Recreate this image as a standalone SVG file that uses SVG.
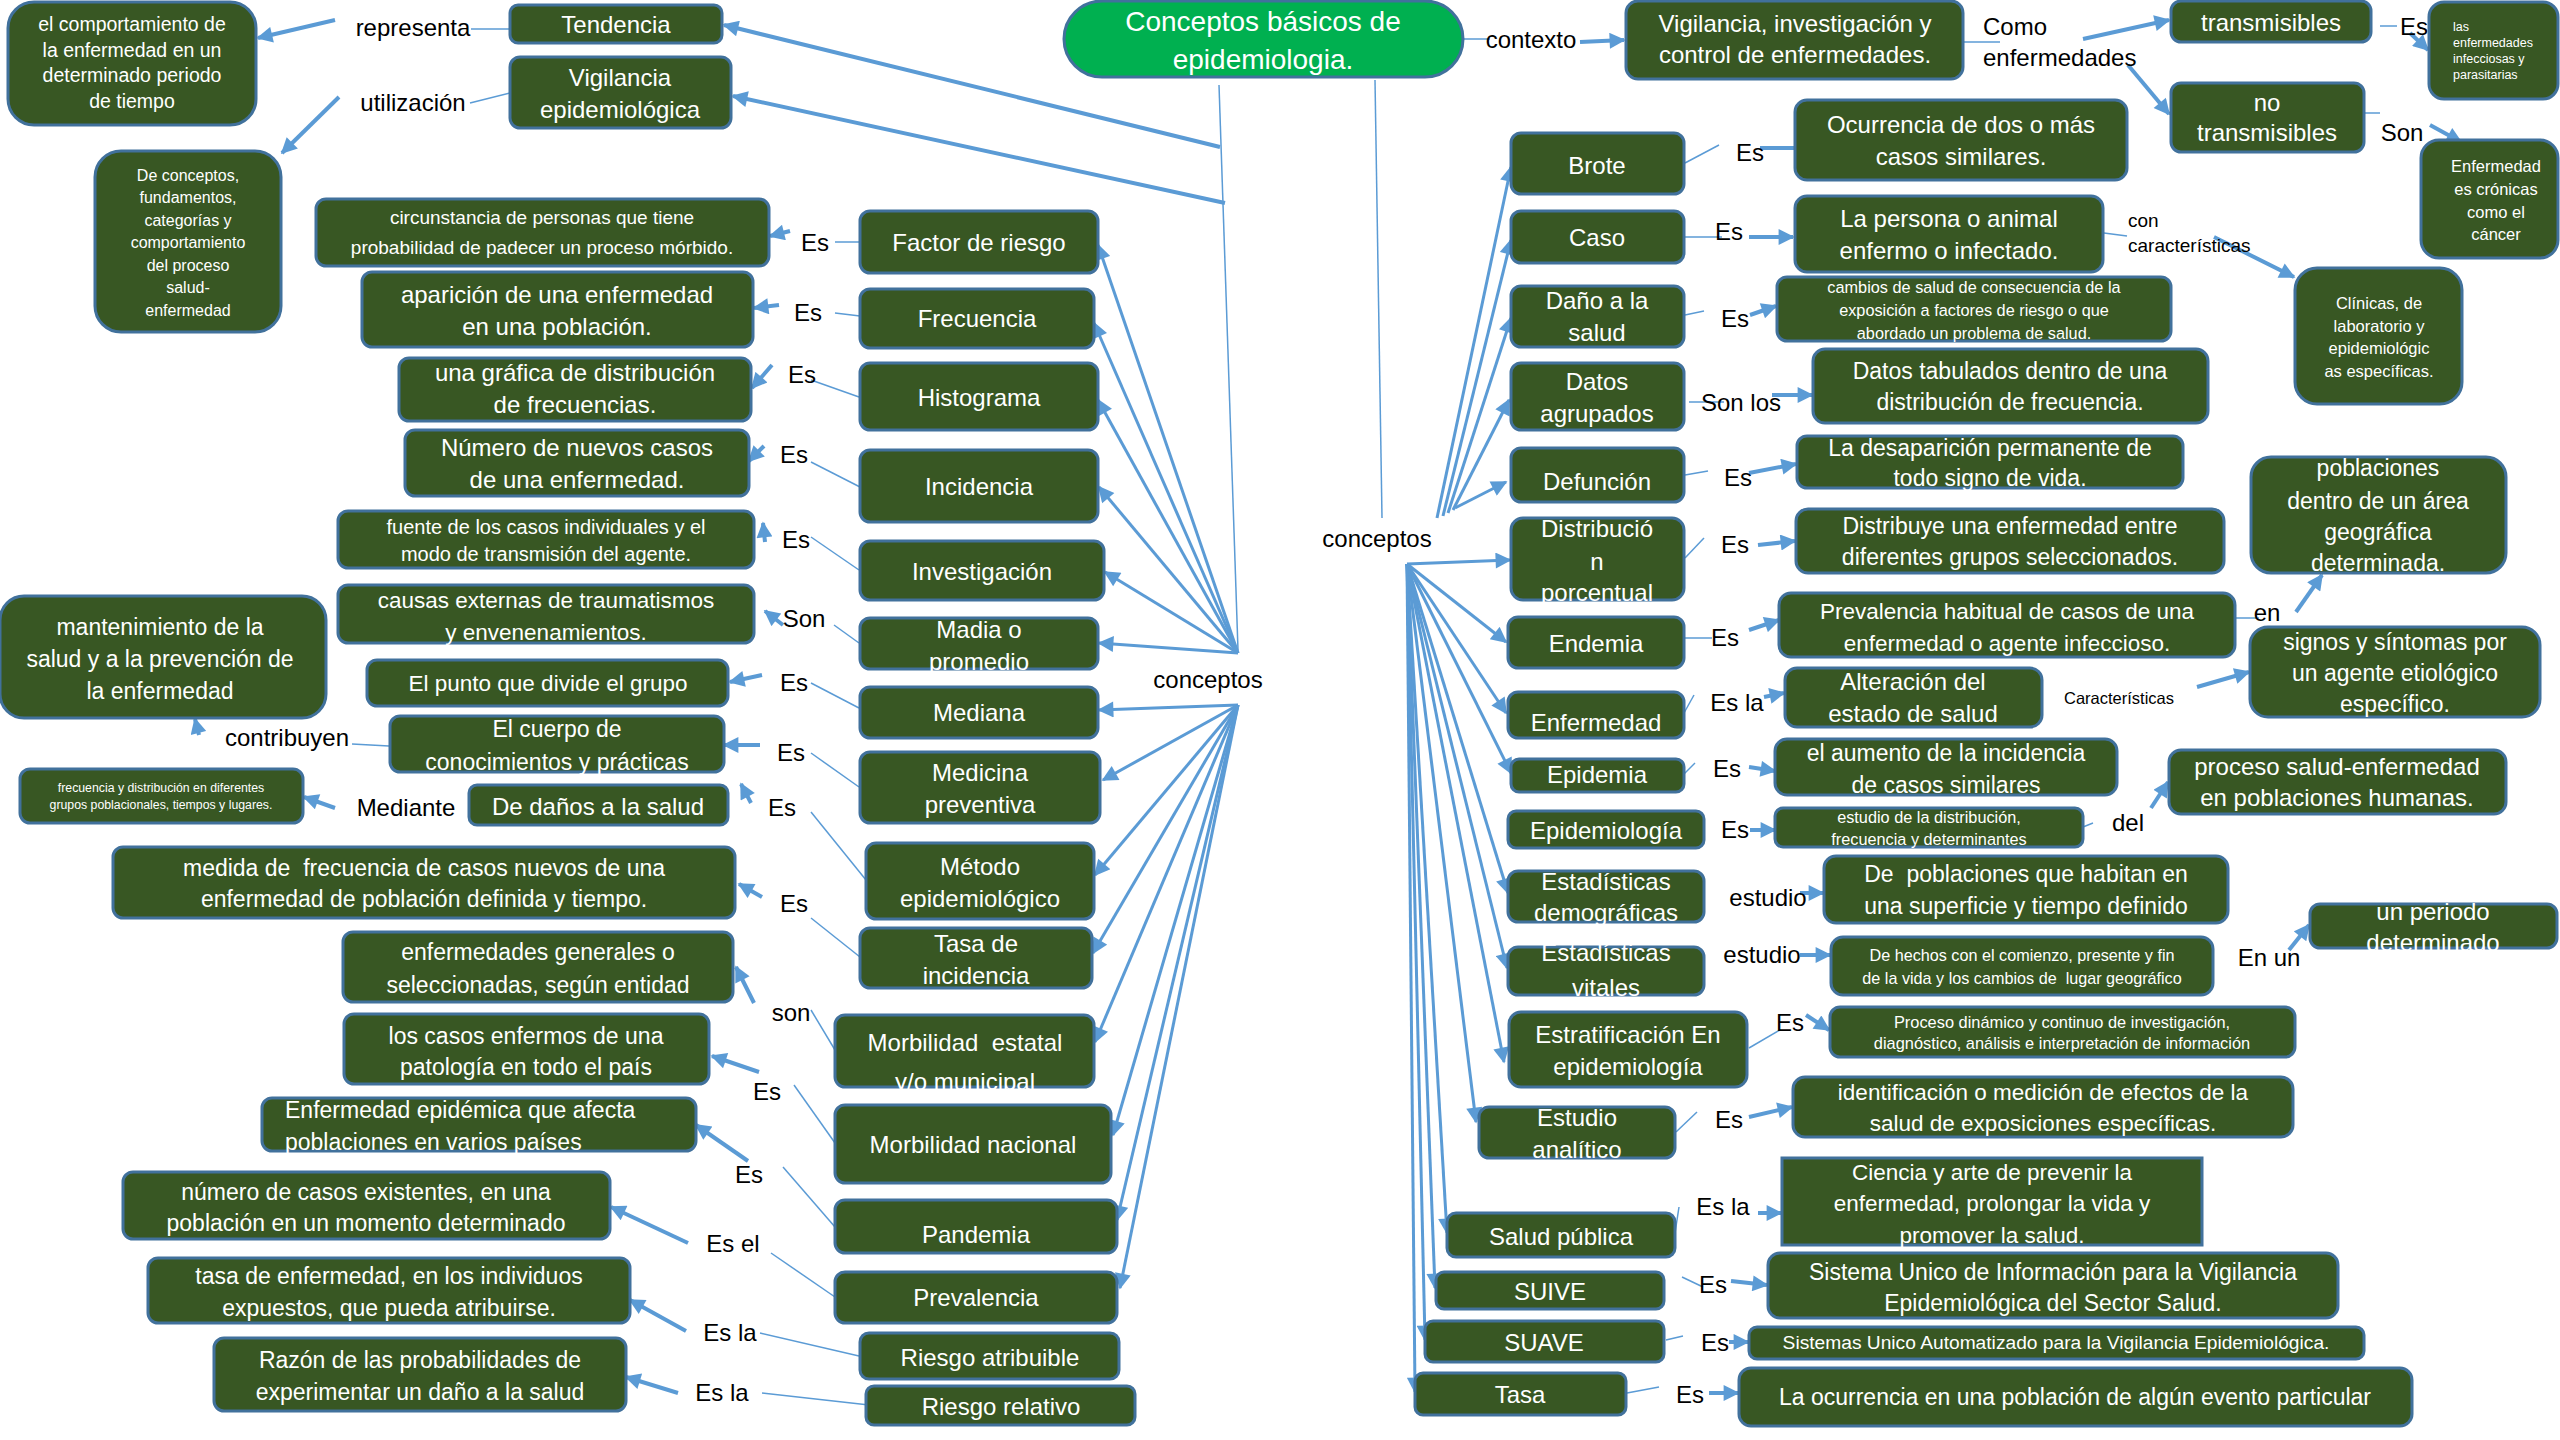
<svg xmlns="http://www.w3.org/2000/svg" width="2560" height="1440" viewBox="0 0 2560 1440">
<defs>
<marker id="ah" viewBox="0 0 10 10" refX="9" refY="5" markerWidth="18" markerHeight="16" markerUnits="userSpaceOnUse" orient="auto"><path d="M0,0 L10,5 L0,10 z" fill="#5B9BD5"/></marker>
<style>
.b{fill:#385723;stroke:#41719C;stroke-width:3}
.g{fill:#00B050;stroke:#41719C;stroke-width:3}
text{font-family:"Liberation Sans",Arial,sans-serif;font-size:24px}
.t{fill:#fff;text-anchor:middle}
.tl{fill:#fff;text-anchor:start}
.l{fill:#000;text-anchor:middle}
.ll{fill:#000;text-anchor:start}
.c line{stroke:#5B9BD5;fill:none}
.a{stroke-width:4;marker-end:url(#ah)}
.f{stroke-width:3;marker-end:url(#ah)}
.s{stroke-width:1.5}
</style>
</defs>
<rect width="2560" height="1440" fill="#fff"/>

<g id="connectors" class="c">
<line class="a" x1="335" y1="20" x2="258" y2="38"/>
<line class="a" x1="339" y1="97" x2="282" y2="153"/>
<line class="s" x1="471" y1="29" x2="510" y2="29"/>
<line class="s" x1="470" y1="103" x2="510" y2="93"/>
<line class="a" x1="1220" y1="147" x2="724" y2="25"/>
<line class="a" x1="1225" y1="203" x2="733" y2="96"/>
<line class="s" x1="1219" y1="85" x2="1238" y2="650"/>
<line class="s" x1="1375" y1="80" x2="1382" y2="518"/>
<line class="s" x1="1463" y1="39" x2="1490" y2="39"/>
<line class="a" x1="1580" y1="42" x2="1624" y2="40"/>
<line class="s" x1="1963" y1="42" x2="2000" y2="42"/>
<line class="a" x1="2083" y1="39" x2="2169" y2="20"/>
<line class="a" x1="2128" y1="65" x2="2169" y2="114"/>
<line class="s" x1="2380" y1="26" x2="2397" y2="26"/>
<line class="a" x1="2410" y1="33" x2="2428" y2="50"/>
<line class="s" x1="2365" y1="113" x2="2380" y2="113"/>
<line class="a" x1="2430" y1="125" x2="2461" y2="142"/>
<line class="s" x1="2104" y1="233" x2="2127" y2="236"/>
<line class="a" x1="2214" y1="237" x2="2294" y2="277"/>
<line class="f" x1="1238" y1="653" x2="1098" y2="245"/>
<line class="f" x1="1238" y1="653" x2="1094" y2="323"/>
<line class="f" x1="1238" y1="653" x2="1098" y2="400"/>
<line class="f" x1="1238" y1="653" x2="1099" y2="487"/>
<line class="f" x1="1238" y1="653" x2="1105" y2="572"/>
<line class="f" x1="1238" y1="653" x2="1099" y2="643"/>
<line class="f" x1="1238" y1="705" x2="1099" y2="710"/>
<line class="f" x1="1238" y1="705" x2="1103" y2="780"/>
<line class="f" x1="1238" y1="705" x2="1095" y2="875"/>
<line class="f" x1="1238" y1="705" x2="1093" y2="953"/>
<line class="f" x1="1238" y1="705" x2="1095" y2="1042"/>
<line class="f" x1="1238" y1="705" x2="1113" y2="1135"/>
<line class="f" x1="1238" y1="705" x2="1117" y2="1220"/>
<line class="f" x1="1238" y1="705" x2="1120" y2="1288"/>
<line class="f" x1="1437" y1="518" x2="1511" y2="167"/>
<line class="f" x1="1443" y1="516" x2="1511" y2="240"/>
<line class="f" x1="1448" y1="513" x2="1511" y2="318"/>
<line class="f" x1="1453" y1="510" x2="1509" y2="400"/>
<line class="f" x1="1455" y1="508" x2="1506" y2="482"/>
<line class="f" x1="1407" y1="564" x2="1510" y2="560"/>
<line class="f" x1="1407" y1="564" x2="1506" y2="642"/>
<line class="f" x1="1407" y1="564" x2="1506" y2="713"/>
<line class="f" x1="1407" y1="564" x2="1511" y2="773"/>
<line class="f" x1="1407" y1="564" x2="1508" y2="893"/>
<line class="f" x1="1407" y1="564" x2="1507" y2="968"/>
<line class="f" x1="1407" y1="564" x2="1504" y2="1062"/>
<line class="f" x1="1407" y1="564" x2="1476" y2="1122"/>
<line class="f" x1="1407" y1="564" x2="1447" y2="1233"/>
<line class="f" x1="1407" y1="564" x2="1435" y2="1288"/>
<line class="f" x1="1407" y1="564" x2="1425" y2="1340"/>
<line class="f" x1="1407" y1="564" x2="1415" y2="1392"/>
<line class="s" x1="835" y1="242" x2="860" y2="242"/>
<line class="s" x1="835" y1="313" x2="860" y2="316"/>
<line class="s" x1="811" y1="380" x2="859" y2="397"/>
<line class="s" x1="811" y1="462" x2="860" y2="487"/>
<line class="s" x1="811" y1="537" x2="859" y2="570"/>
<line class="s" x1="834" y1="625" x2="859" y2="643"/>
<line class="s" x1="811" y1="683" x2="859" y2="708"/>
<line class="s" x1="811" y1="753" x2="859" y2="787"/>
<line class="s" x1="811" y1="812" x2="866" y2="880"/>
<line class="s" x1="811" y1="918" x2="860" y2="957"/>
<line class="s" x1="811" y1="1010" x2="835" y2="1050"/>
<line class="s" x1="794" y1="1085" x2="835" y2="1143"/>
<line class="s" x1="783" y1="1167" x2="835" y2="1227"/>
<line class="s" x1="771" y1="1253" x2="835" y2="1297"/>
<line class="s" x1="760" y1="1333" x2="859" y2="1356"/>
<line class="s" x1="762" y1="1393" x2="878" y2="1406"/>
<line class="s" x1="352" y1="744" x2="389" y2="746"/>
<line class="a" x1="790" y1="231" x2="770" y2="236"/>
<line class="a" x1="779" y1="305" x2="754" y2="308"/>
<line class="a" x1="772" y1="365" x2="752" y2="388"/>
<line class="a" x1="764" y1="446" x2="749" y2="461"/>
<line class="a" x1="765" y1="542" x2="763" y2="523"/>
<line class="a" x1="783" y1="625" x2="765" y2="611"/>
<line class="a" x1="762" y1="675" x2="730" y2="682"/>
<line class="a" x1="760" y1="745" x2="724" y2="745"/>
<line class="a" x1="751" y1="803" x2="741" y2="784"/>
<line class="a" x1="762" y1="897" x2="739" y2="884"/>
<line class="a" x1="754" y1="1003" x2="736" y2="967"/>
<line class="a" x1="759" y1="1072" x2="712" y2="1056"/>
<line class="a" x1="748" y1="1161" x2="696" y2="1125"/>
<line class="a" x1="688" y1="1243" x2="611" y2="1207"/>
<line class="a" x1="686" y1="1331" x2="630" y2="1300"/>
<line class="a" x1="678" y1="1393" x2="626" y2="1377"/>
<line class="a" x1="199" y1="735" x2="195" y2="719"/>
<line class="a" x1="335" y1="808" x2="304" y2="797"/>
<line class="s" x1="1685" y1="163" x2="1719" y2="145"/>
<line class="s" x1="1685" y1="237" x2="1722" y2="237"/>
<line class="s" x1="1685" y1="315" x2="1704" y2="311"/>
<line class="s" x1="1689" y1="402" x2="1724" y2="402"/>
<line class="s" x1="1685" y1="475" x2="1708" y2="471"/>
<line class="s" x1="1685" y1="558" x2="1704" y2="538"/>
<line class="s" x1="1682" y1="638" x2="1712" y2="638"/>
<line class="s" x1="1684" y1="713" x2="1694" y2="695"/>
<line class="s" x1="1684" y1="774" x2="1695" y2="763"/>
<line class="s" x1="1749" y1="1048" x2="1780" y2="1030"/>
<line class="s" x1="1676" y1="1132" x2="1697" y2="1112"/>
<line class="s" x1="1675" y1="1233" x2="1679" y2="1207"/>
<line class="s" x1="1682" y1="1277" x2="1703" y2="1287"/>
<line class="s" x1="1666" y1="1340" x2="1683" y2="1336"/>
<line class="s" x1="1627" y1="1393" x2="1659" y2="1387"/>
<line class="s" x1="2235" y1="618" x2="2259" y2="618"/>
<line class="s" x1="2083" y1="827" x2="2093" y2="823"/>
<line class="a" x1="1760" y1="148" x2="1812" y2="148"/>
<line class="a" x1="1749" y1="237" x2="1793" y2="237"/>
<line class="a" x1="1750" y1="315" x2="1776" y2="306"/>
<line class="a" x1="1772" y1="395" x2="1812" y2="395"/>
<line class="a" x1="1749" y1="473" x2="1796" y2="464"/>
<line class="a" x1="1758" y1="545" x2="1795" y2="541"/>
<line class="a" x1="1749" y1="630" x2="1779" y2="620"/>
<line class="a" x1="2296" y1="612" x2="2322" y2="575"/>
<line class="a" x1="1764" y1="697" x2="1784" y2="693"/>
<line class="a" x1="2197" y1="687" x2="2249" y2="672"/>
<line class="a" x1="1749" y1="767" x2="1775" y2="771"/>
<line class="a" x1="1750" y1="830" x2="1775" y2="830"/>
<line class="a" x1="2151" y1="808" x2="2168" y2="782"/>
<line class="a" x1="1800" y1="893" x2="1823" y2="893"/>
<line class="a" x1="1800" y1="955" x2="1830" y2="955"/>
<line class="a" x1="2289" y1="950" x2="2309" y2="925"/>
<line class="a" x1="1806" y1="1015" x2="1829" y2="1030"/>
<line class="a" x1="1749" y1="1117" x2="1792" y2="1107"/>
<line class="a" x1="1758" y1="1213" x2="1781" y2="1213"/>
<line class="a" x1="1731" y1="1281" x2="1767" y2="1285"/>
<line class="a" x1="1729" y1="1342" x2="1748" y2="1342"/>
<line class="a" x1="1709" y1="1393" x2="1738" y2="1393"/>
</g>

<g id="labels">
<text class="l" x="413" y="36">representa</text>
<text class="l" x="413" y="111">utilización</text>
<text class="l" x="1531" y="48">contexto</text>
<text class="ll" x="1983" y="35">Como</text>
<text class="ll" x="1983" y="66">enfermedades</text>
<text class="l" x="2414" y="35">Es</text>
<text class="l" x="2402" y="141">Son</text>
<text class="ll" x="2128" y="227" style="font-size:19px">con</text>
<text class="ll" x="2128" y="252" style="font-size:19px">características</text>
<text class="l" x="1208" y="688">conceptos</text>
<text class="l" x="1377" y="547">conceptos</text>
<text class="l" x="815" y="251">Es</text>
<text class="l" x="808" y="321">Es</text>
<text class="l" x="802" y="383">Es</text>
<text class="l" x="794" y="463">Es</text>
<text class="l" x="796" y="548">Es</text>
<text class="l" x="804" y="627">Son</text>
<text class="l" x="794" y="691">Es</text>
<text class="l" x="791" y="761">Es</text>
<text class="l" x="782" y="816">Es</text>
<text class="l" x="794" y="912">Es</text>
<text class="l" x="791" y="1021">son</text>
<text class="l" x="767" y="1100">Es</text>
<text class="l" x="749" y="1183">Es</text>
<text class="l" x="733" y="1252">Es el</text>
<text class="l" x="730" y="1341">Es la</text>
<text class="l" x="722" y="1401">Es la</text>
<text class="l" x="287" y="746">contribuyen</text>
<text class="l" x="406" y="816">Mediante</text>
<text class="l" x="1750" y="161">Es</text>
<text class="l" x="1729" y="240">Es</text>
<text class="l" x="1735" y="327">Es</text>
<text class="l" x="1741" y="411">Son los</text>
<text class="l" x="1738" y="486">Es</text>
<text class="l" x="1735" y="553">Es</text>
<text class="l" x="1725" y="646">Es</text>
<text class="l" x="2267" y="621">en</text>
<text class="l" x="1737" y="711">Es la</text>
<text class="l" x="2119" y="704" style="font-size:16.5px">Características</text>
<text class="l" x="1727" y="777">Es</text>
<text class="l" x="1735" y="838">Es</text>
<text class="l" x="2128" y="831">del</text>
<text class="l" x="1768" y="906">estudio</text>
<text class="l" x="1762" y="963">estudio</text>
<text class="l" x="2269" y="966">En un</text>
<text class="l" x="1790" y="1031">Es</text>
<text class="l" x="1729" y="1128">Es</text>
<text class="l" x="1723" y="1215">Es la</text>
<text class="l" x="1713" y="1293">Es</text>
<text class="l" x="1715" y="1351">Es</text>
<text class="l" x="1690" y="1403">Es</text>
</g>

<g id="n-title"><rect class="g" x="1064" y="1" width="399" height="76" rx="38"/><text class="t" style="font-size:28px"><tspan x="1263" y="31">Conceptos básicos de</tspan><tspan x="1263" y="69">epidemiologia.</tspan></text></g>

<g id="n-comportamiento"><rect class="b" x="8" y="2" width="248" height="123" rx="26"/><text class="t" style="font-size:19.5px"><tspan x="132" y="31">el comportamiento de</tspan><tspan x="132" y="57">la enfermedad en un</tspan><tspan x="132" y="82">determinado periodo</tspan><tspan x="132" y="108">de tiempo</tspan></text></g>
<g id="n-tendencia"><rect class="b" x="510" y="5" width="212" height="38" rx="8"/><text class="t" x="616" y="33">Tendencia</text></g>
<g id="n-vigilancia-ep"><rect class="b" x="510" y="57" width="221" height="71" rx="10"/><text class="t"><tspan x="620" y="86">Vigilancia</tspan><tspan x="620" y="118">epidemiológica</tspan></text></g>
<g id="n-deconceptos"><rect class="b" x="95" y="151" width="186" height="181" rx="26"/><text class="t" style="font-size:16px"><tspan x="188" y="181">De conceptos,</tspan><tspan x="188" y="203">fundamentos,</tspan><tspan x="188" y="226">categorías y</tspan><tspan x="188" y="248">comportamiento</tspan><tspan x="188" y="271">del proceso</tspan><tspan x="188" y="293">salud-</tspan><tspan x="188" y="316">enfermedad</tspan></text></g>

<g id="n-factor"><rect class="b" x="860" y="211" width="238" height="62" rx="10"/><text class="t" x="979" y="251">Factor de riesgo</text></g>
<g id="n-frecuencia"><rect class="b" x="860" y="289" width="234" height="59" rx="10"/><text class="t" x="977" y="327">Frecuencia</text></g>
<g id="n-histograma"><rect class="b" x="860" y="363" width="238" height="67" rx="10"/><text class="t" x="979" y="406">Histograma</text></g>
<g id="n-incidencia"><rect class="b" x="860" y="450" width="238" height="72" rx="10"/><text class="t" x="979" y="495">Incidencia</text></g>
<g id="n-investigacion"><rect class="b" x="860" y="541" width="244" height="59" rx="10"/><text class="t" x="982" y="580">Investigación</text></g>
<g id="n-madia"><rect class="b" x="860" y="618" width="238" height="51" rx="10"/><text class="t"><tspan x="979" y="638">Madia o</tspan><tspan x="979" y="670">promedio</tspan></text></g>
<g id="n-mediana"><rect class="b" x="860" y="687" width="238" height="51" rx="10"/><text class="t" x="979" y="721">Mediana</text></g>
<g id="n-medicina"><rect class="b" x="860" y="752" width="240" height="71" rx="10"/><text class="t"><tspan x="980" y="781">Medicina</tspan><tspan x="980" y="813">preventiva</tspan></text></g>
<g id="n-metodo"><rect class="b" x="866" y="843" width="228" height="76" rx="10"/><text class="t"><tspan x="980" y="875">Método</tspan><tspan x="980" y="907">epidemiológico</tspan></text></g>
<g id="n-tasainc"><rect class="b" x="860" y="928" width="232" height="60" rx="10"/><text class="t"><tspan x="976" y="952">Tasa de</tspan><tspan x="976" y="984">incidencia</tspan></text></g>
<g id="n-morbest"><rect class="b" x="835" y="1015" width="259" height="72" rx="10"/><text class="t" xml:space="preserve"><tspan x="965" y="1051">Morbilidad  estatal</tspan><tspan x="965" y="1090">y/o municipal</tspan></text></g>
<g id="n-morbnac"><rect class="b" x="835" y="1105" width="276" height="78" rx="10"/><text class="t" x="973" y="1153">Morbilidad nacional</text></g>
<g id="n-pandemia"><rect class="b" x="835" y="1200" width="282" height="53" rx="10"/><text class="t" x="976" y="1243">Pandemia</text></g>
<g id="n-prevalencia"><rect class="b" x="835" y="1272" width="282" height="51" rx="10"/><text class="t" x="976" y="1306">Prevalencia</text></g>
<g id="n-riesgoatr"><rect class="b" x="860" y="1333" width="259" height="46" rx="9"/><text class="t" x="990" y="1366">Riesgo atribuible</text></g>
<g id="n-riesgorel"><rect class="b" x="866" y="1386" width="269" height="39" rx="8"/><text class="t" x="1001" y="1415">Riesgo relativo</text></g>

<g id="d-factor"><rect class="b" x="316" y="199" width="453" height="67" rx="10"/><text class="t" style="font-size:19px"><tspan x="542" y="224">circunstancia de personas que tiene</tspan><tspan x="542" y="254">probabilidad de padecer un proceso mórbido.</tspan></text></g>
<g id="d-frecuencia"><rect class="b" x="362" y="272" width="391" height="75" rx="10"/><text class="t"><tspan x="557" y="303">aparición de una enfermedad</tspan><tspan x="557" y="335">en una población.</tspan></text></g>
<g id="d-histograma"><rect class="b" x="399" y="358" width="352" height="63" rx="10"/><text class="t"><tspan x="575" y="381">una gráfica de distribución</tspan><tspan x="575" y="413">de frecuencias.</tspan></text></g>
<g id="d-incidencia"><rect class="b" x="405" y="430" width="344" height="66" rx="10"/><text class="t"><tspan x="577" y="456">Número de nuevos casos</tspan><tspan x="577" y="488">de una enfermedad.</tspan></text></g>
<g id="d-investigacion"><rect class="b" x="338" y="511" width="416" height="57" rx="10"/><text class="t" style="font-size:20px"><tspan x="546" y="534">fuente de los casos individuales y el</tspan><tspan x="546" y="561">modo de transmisión del agente.</tspan></text></g>
<g id="d-madia"><rect class="b" x="338" y="585" width="416" height="58" rx="10"/><text class="t" style="font-size:22.5px"><tspan x="546" y="608">causas externas de traumatismos</tspan><tspan x="546" y="640">y envenenamientos.</tspan></text></g>
<g id="d-mediana"><rect class="b" x="367" y="660" width="361" height="46" rx="10"/><text class="t" x="548" y="691" style="font-size:22.5px">El punto que divide el grupo</text></g>
<g id="d-medicina"><rect class="b" x="390" y="716" width="334" height="56" rx="10"/><text class="t" style="font-size:23px"><tspan x="557" y="737">El cuerpo de</tspan><tspan x="557" y="770">conocimientos y prácticas</tspan></text></g>
<g id="d-metodo"><rect class="b" x="469" y="785" width="259" height="40" rx="8"/><text class="t" x="598" y="815">De daños a la salud</text></g>
<g id="d-mantenimiento"><rect class="b" x="0" y="596" width="326" height="122" rx="24"/><text class="t" style="font-size:23px"><tspan x="160" y="635">mantenimiento de la</tspan><tspan x="160" y="667">salud y a la prevención de</tspan><tspan x="160" y="699">la enfermedad</tspan></text></g>
<g id="d-frecdist"><rect class="b" x="20" y="769" width="283" height="54" rx="10"/><text class="t" style="font-size:12.3px"><tspan x="161" y="792">frecuencia y distribución en diferentes</tspan><tspan x="161" y="809">grupos poblacionales, tiempos y lugares.</tspan></text></g>
<g id="d-tasainc"><rect class="b" x="113" y="847" width="622" height="71" rx="10"/><text class="t" style="font-size:23px" xml:space="preserve"><tspan x="424" y="876">medida de  frecuencia de casos nuevos de una</tspan><tspan x="424" y="907">enfermedad de población definida y tiempo.</tspan></text></g>
<g id="d-morbest"><rect class="b" x="343" y="932" width="390" height="70" rx="10"/><text class="t" style="font-size:23px"><tspan x="538" y="960">enfermedades generales o</tspan><tspan x="538" y="993">seleccionadas, según entidad</tspan></text></g>
<g id="d-morbnac"><rect class="b" x="344" y="1014" width="365" height="70" rx="10"/><text class="t" style="font-size:23px"><tspan x="526" y="1044">los casos enfermos de una</tspan><tspan x="526" y="1075">patología en todo el país</tspan></text></g>
<g id="d-pandemia"><rect class="b" x="262" y="1098" width="434" height="53" rx="10"/><text class="tl" style="font-size:23px"><tspan x="285" y="1118">Enfermedad epidémica que afecta</tspan><tspan x="285" y="1150">poblaciones en varios países</tspan></text></g>
<g id="d-prevalencia"><rect class="b" x="123" y="1172" width="487" height="67" rx="10"/><text class="t" style="font-size:23px"><tspan x="366" y="1200">número de casos existentes, en una</tspan><tspan x="366" y="1231">población en un momento determinado</tspan></text></g>
<g id="d-riesgoatr"><rect class="b" x="148" y="1258" width="482" height="65" rx="10"/><text class="t" style="font-size:23px"><tspan x="389" y="1284">tasa de enfermedad, en los individuos</tspan><tspan x="389" y="1316">expuestos, que pueda atribuirse.</tspan></text></g>
<g id="d-riesgorel"><rect class="b" x="214" y="1338" width="412" height="73" rx="10"/><text class="t" style="font-size:23px"><tspan x="420" y="1368">Razón de las probabilidades de</tspan><tspan x="420" y="1400">experimentar un daño a la salud</tspan></text></g>

<g id="n-vic"><rect class="b" x="1626" y="1" width="337" height="78" rx="12"/><text class="t"><tspan x="1795" y="32">Vigilancia, investigación y</tspan><tspan x="1795" y="63">control de enfermedades.</tspan></text></g>
<g id="n-transmisibles"><rect class="b" x="2171" y="1" width="200" height="41" rx="10"/><text class="t" x="2271" y="31">transmisibles</text></g>
<g id="n-notransmisibles"><rect class="b" x="2171" y="83" width="193" height="69" rx="10"/><text class="t"><tspan x="2267" y="111">no</tspan><tspan x="2267" y="141">transmisibles</tspan></text></g>
<g id="n-infecciosas"><rect class="b" x="2429" y="2" width="129" height="97" rx="15"/><text class="tl" style="font-size:12.5px"><tspan x="2453" y="31">las</tspan><tspan x="2453" y="47">enfermedades</tspan><tspan x="2453" y="63">infecciosas y</tspan><tspan x="2453" y="79">parasitarias</tspan></text></g>
<g id="n-cronicas"><rect class="b" x="2421" y="140" width="137" height="118" rx="18"/><text class="t" style="font-size:16.5px"><tspan x="2496" y="172">Enfermedad</tspan><tspan x="2496" y="195">es crónicas</tspan><tspan x="2496" y="218">como el</tspan><tspan x="2496" y="240">cáncer</tspan></text></g>
<g id="n-clinicas"><rect class="b" x="2295" y="268" width="167" height="136" rx="22"/><text class="t" style="font-size:16.5px"><tspan x="2379" y="309">Clínicas, de</tspan><tspan x="2379" y="332">laboratorio y</tspan><tspan x="2379" y="354">epidemiológic</tspan><tspan x="2379" y="377">as específicas.</tspan></text></g>

<g id="n-brote"><rect class="b" x="1511" y="133" width="173" height="61" rx="10"/><text class="t" x="1597" y="174">Brote</text></g>
<g id="n-caso"><rect class="b" x="1511" y="211" width="173" height="52" rx="10"/><text class="t" x="1597" y="246">Caso</text></g>
<g id="n-dano"><rect class="b" x="1511" y="286" width="173" height="61" rx="10"/><text class="t"><tspan x="1597" y="309">Daño a la</tspan><tspan x="1597" y="341">salud</tspan></text></g>
<g id="n-datos"><rect class="b" x="1511" y="363" width="173" height="67" rx="10"/><text class="t"><tspan x="1597" y="390">Datos</tspan><tspan x="1597" y="422">agrupados</tspan></text></g>
<g id="n-defuncion"><rect class="b" x="1511" y="448" width="173" height="54" rx="10"/><text class="t" x="1597" y="490">Defunción</text></g>
<g id="n-distribucion"><rect class="b" x="1511" y="518" width="173" height="82" rx="12"/><text class="t"><tspan x="1597" y="537">Distribució</tspan><tspan x="1597" y="570">n</tspan><tspan x="1597" y="601">porcentual</tspan></text></g>
<g id="n-endemia"><rect class="b" x="1508" y="617" width="176" height="51" rx="10"/><text class="t" x="1596" y="652">Endemia</text></g>
<g id="n-enfermedad"><rect class="b" x="1508" y="692" width="176" height="46" rx="10"/><text class="t" x="1596" y="731">Enfermedad</text></g>
<g id="n-epidemia"><rect class="b" x="1511" y="759" width="173" height="33" rx="8"/><text class="t" x="1597" y="783">Epidemia</text></g>
<g id="n-epidemiologia"><rect class="b" x="1508" y="811" width="196" height="37" rx="8"/><text class="t" x="1606" y="839">Epidemiología</text></g>
<g id="n-estdem"><rect class="b" x="1508" y="871" width="196" height="51" rx="10"/><text class="t"><tspan x="1606" y="890">Estadísticas</tspan><tspan x="1606" y="921">demográficas</tspan></text></g>
<g id="n-estvit"><rect class="b" x="1508" y="947" width="196" height="48" rx="10"/><text class="t"><tspan x="1606" y="961">Estadísticas</tspan><tspan x="1606" y="996">vitales</tspan></text></g>
<g id="n-estratificacion"><rect class="b" x="1509" y="1012" width="238" height="75" rx="12"/><text class="t"><tspan x="1628" y="1043">Estratificación En</tspan><tspan x="1628" y="1075">epidemiología</tspan></text></g>
<g id="n-estudio"><rect class="b" x="1479" y="1107" width="196" height="51" rx="10"/><text class="t"><tspan x="1577" y="1126">Estudio</tspan><tspan x="1577" y="1158">analítico</tspan></text></g>
<g id="n-saludpublica"><rect class="b" x="1447" y="1213" width="228" height="44" rx="9"/><text class="t" x="1561" y="1245">Salud pública</text></g>
<g id="n-suive"><rect class="b" x="1436" y="1272" width="228" height="37" rx="8"/><text class="t" x="1550" y="1300">SUIVE</text></g>
<g id="n-suave"><rect class="b" x="1425" y="1321" width="239" height="41" rx="8"/><text class="t" x="1544" y="1351">SUAVE</text></g>
<g id="n-tasa"><rect class="b" x="1415" y="1373" width="211" height="42" rx="8"/><text class="t" x="1520" y="1403">Tasa</text></g>

<g id="d-brote"><rect class="b" x="1795" y="100" width="332" height="80" rx="12"/><text class="t"><tspan x="1961" y="133">Ocurrencia de dos o más</tspan><tspan x="1961" y="165">casos similares.</tspan></text></g>
<g id="d-caso"><rect class="b" x="1795" y="196" width="308" height="76" rx="12"/><text class="t"><tspan x="1949" y="227">La persona o animal</tspan><tspan x="1949" y="259">enfermo o infectado.</tspan></text></g>
<g id="d-dano"><rect class="b" x="1777" y="277" width="394" height="64" rx="10"/><text class="t" style="font-size:16.3px"><tspan x="1974" y="293">cambios de salud de consecuencia de la</tspan><tspan x="1974" y="316">exposición a factores de riesgo o que</tspan><tspan x="1974" y="339">abordado un problema de salud.</tspan></text></g>
<g id="d-datos"><rect class="b" x="1813" y="349" width="395" height="74" rx="12"/><text class="t" style="font-size:23px"><tspan x="2010" y="379">Datos tabulados dentro de una</tspan><tspan x="2010" y="410">distribución de frecuencia.</tspan></text></g>
<g id="d-defuncion"><rect class="b" x="1797" y="436" width="386" height="52" rx="10"/><text class="t" style="font-size:23px"><tspan x="1990" y="456">La desaparición permanente de</tspan><tspan x="1990" y="486">todo signo de vida.</tspan></text></g>
<g id="d-distribucion"><rect class="b" x="1796" y="509" width="428" height="64" rx="12"/><text class="t" style="font-size:23px"><tspan x="2010" y="534">Distribuye una enfermedad entre</tspan><tspan x="2010" y="565">diferentes grupos seleccionados.</tspan></text></g>
<g id="d-endemia"><rect class="b" x="1779" y="593" width="456" height="64" rx="12"/><text class="t" style="font-size:22.5px"><tspan x="2007" y="619">Prevalencia habitual de casos de una</tspan><tspan x="2007" y="651">enfermedad o agente infeccioso.</tspan></text></g>
<g id="d-poblaciones"><rect class="b" x="2251" y="457" width="255" height="116" rx="20"/><text class="t" style="font-size:23px"><tspan x="2378" y="476">poblaciones</tspan><tspan x="2378" y="509">dentro de un área</tspan><tspan x="2378" y="540">geográfica</tspan><tspan x="2378" y="571">determinada.</tspan></text></g>
<g id="d-enfermedad"><rect class="b" x="1785" y="668" width="257" height="59" rx="12"/><text class="t"><tspan x="1913" y="690">Alteración del</tspan><tspan x="1913" y="722">estado de salud</tspan></text></g>
<g id="d-signos"><rect class="b" x="2250" y="627" width="290" height="90" rx="18"/><text class="t" style="font-size:23px"><tspan x="2395" y="650">signos y síntomas por</tspan><tspan x="2395" y="681">un agente etiológico</tspan><tspan x="2395" y="712">específico.</tspan></text></g>
<g id="d-epidemia"><rect class="b" x="1775" y="739" width="342" height="56" rx="12"/><text class="t" style="font-size:23px"><tspan x="1946" y="761">el aumento de la incidencia</tspan><tspan x="1946" y="793">de casos similares</tspan></text></g>
<g id="d-epidemiologia"><rect class="b" x="1775" y="808" width="308" height="39" rx="8"/><text class="t" style="font-size:16.3px"><tspan x="1929" y="823">estudio de la distribución,</tspan><tspan x="1929" y="845">frecuencia y determinantes</tspan></text></g>
<g id="d-proceso"><rect class="b" x="2169" y="750" width="337" height="64" rx="12"/><text class="t"><tspan x="2337" y="775">proceso salud-enfermedad</tspan><tspan x="2337" y="806">en poblaciones humanas.</tspan></text></g>
<g id="d-estdem"><rect class="b" x="1824" y="856" width="404" height="67" rx="12"/><text class="t" style="font-size:23px" xml:space="preserve"><tspan x="2026" y="882">De  poblaciones que habitan en</tspan><tspan x="2026" y="914">una superficie y tiempo definido</tspan></text></g>
<g id="d-estvit"><rect class="b" x="1831" y="937" width="382" height="58" rx="12"/><text class="t" style="font-size:16.2px" xml:space="preserve"><tspan x="2022" y="961">De hechos con el comienzo, presente y fin</tspan><tspan x="2022" y="984">de la vida y los cambios de  lugar geográfico</tspan></text></g>
<g id="d-periodo"><rect class="b" x="2310" y="904" width="247" height="44" rx="10"/><text class="t"><tspan x="2433" y="920">un periodo</tspan><tspan x="2433" y="951">determinado</tspan></text></g>
<g id="d-estratificacion"><rect class="b" x="1830" y="1007" width="465" height="50" rx="10"/><text class="t" style="font-size:16.4px"><tspan x="2062" y="1028">Proceso dinámico y continuo de investigación,</tspan><tspan x="2062" y="1049">diagnóstico, análisis e interpretación de información</tspan></text></g>
<g id="d-estudio"><rect class="b" x="1793" y="1077" width="500" height="60" rx="12"/><text class="t" style="font-size:22.5px"><tspan x="2043" y="1100">identificación o medición de efectos de la</tspan><tspan x="2043" y="1131">salud de exposiciones específicas.</tspan></text></g>
<g id="d-saludpublica"><rect class="b" x="1782" y="1158" width="420" height="87"/><text class="t" style="font-size:22.5px"><tspan x="1992" y="1180">Ciencia y arte de prevenir la</tspan><tspan x="1992" y="1211">enfermedad, prolongar la vida y</tspan><tspan x="1992" y="1243">promover la salud.</tspan></text></g>
<g id="d-suive"><rect class="b" x="1768" y="1253" width="570" height="65" rx="12"/><text class="t" style="font-size:23px"><tspan x="2053" y="1280">Sistema Unico de Información para la Vigilancia</tspan><tspan x="2053" y="1311">Epidemiológica del Sector Salud.</tspan></text></g>
<g id="d-suave"><rect class="b" x="1749" y="1327" width="615" height="32" rx="8"/><text class="t" x="2056" y="1349" style="font-size:19.2px">Sistemas Unico Automatizado para la Vigilancia Epidemiológica.</text></g>
<g id="d-tasa"><rect class="b" x="1739" y="1368" width="673" height="58" rx="12"/><text class="t" x="2075" y="1405" style="font-size:23px">La ocurrencia en una población de algún evento particular</text></g>
</svg>
